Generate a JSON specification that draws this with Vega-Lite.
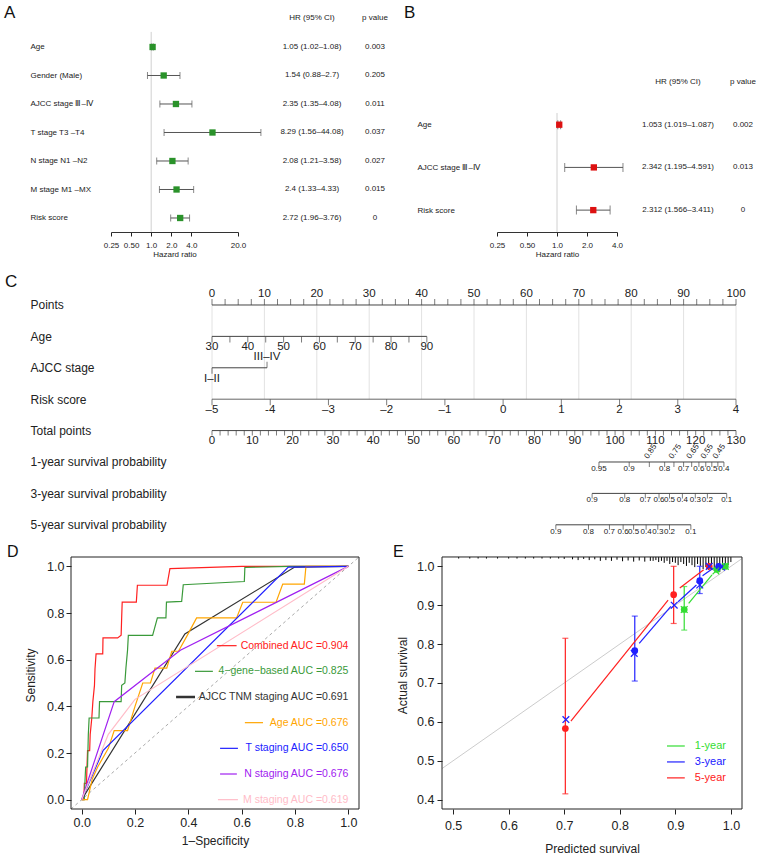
{
"$schema":"https://vega.github.io/schema/vega-lite/v6.json",
"padding":0,
"spacing":0,
"resolve":{"scale":{"color":"independent"}},
"config":{
 "view":{"stroke":null},
 "font":"Liberation Sans",
 "title":{"fontWeight":"normal","font":"Liberation Sans","fontSize":17,"anchor":"start","frame":"group","offset":0,"baseline":"alphabetic","color":"#111"},
 "axis":{"grid":false,"labelColor":"#222","titleColor":"#222","titleFontWeight":"normal","domainColor":"#222","tickColor":"#222","labelFont":"Liberation Sans","titleFont":"Liberation Sans"}
},
"datasets":{
 "forestA":[
  {"i":0,"hrtxt":"HR (95% CI)","ptxt":"p value"},
  {"i":1,"name":"Age","hr":1.05,"lo":1.02,"hi":1.08,"hrtxt":"1.05 (1.02–1.08)","ptxt":"0.003"},
  {"i":2,"name":"Gender (Male)","hr":1.54,"lo":0.88,"hi":2.7,"hrtxt":"1.54 (0.88–2.7)","ptxt":"0.205"},
  {"i":3,"name":"AJCC stage Ⅲ–Ⅳ","hr":2.35,"lo":1.35,"hi":4.08,"hrtxt":"2.35 (1.35–4.08)","ptxt":"0.011"},
  {"i":4,"name":"T stage T3 –T4","hr":8.29,"lo":1.56,"hi":44.08,"hrtxt":"8.29 (1.56–44.08)","ptxt":"0.037"},
  {"i":5,"name":"N stage N1 –N2","hr":2.08,"lo":1.21,"hi":3.58,"hrtxt":"2.08 (1.21–3.58)","ptxt":"0.027"},
  {"i":6,"name":"M stage M1 –MX","hr":2.4,"lo":1.33,"hi":4.33,"hrtxt":"2.4 (1.33–4.33)","ptxt":"0.015"},
  {"i":7,"name":"Risk score","hr":2.72,"lo":1.96,"hi":3.76,"hrtxt":"2.72 (1.96–3.76)","ptxt":"0"}
 ],
 "forestB":[
  {"i":0,"hrtxt":"HR (95% CI)","ptxt":"p value"},
  {"i":1,"name":"Age","hr":1.053,"lo":1.019,"hi":1.087,"hrtxt":"1.053 (1.019–1.087)","ptxt":"0.002"},
  {"i":2,"name":"AJCC stage Ⅲ–Ⅳ","hr":2.342,"lo":1.195,"hi":4.591,"hrtxt":"2.342 (1.195–4.591)","ptxt":"0.013"},
  {"i":3,"name":"Risk score","hr":2.312,"lo":1.566,"hi":3.411,"hrtxt":"2.312 (1.566–3.411)","ptxt":"0"}
 ],
 "nomoPts":[
  {"r":0,"v":0,"t":"u","lab":"0","lp":"a"},{"r":0,"v":2.5,"t":"u"},{"r":0,"v":5,"t":"u"},{"r":0,"v":7.5,"t":"u"},
  {"r":0,"v":10,"t":"u","lab":"10","lp":"a"},{"r":0,"v":12.5,"t":"u"},{"r":0,"v":15,"t":"u"},{"r":0,"v":17.5,"t":"u"},
  {"r":0,"v":20,"t":"u","lab":"20","lp":"a"},{"r":0,"v":22.5,"t":"u"},{"r":0,"v":25,"t":"u"},{"r":0,"v":27.5,"t":"u"},
  {"r":0,"v":30,"t":"u","lab":"30","lp":"a"},{"r":0,"v":32.5,"t":"u"},{"r":0,"v":35,"t":"u"},{"r":0,"v":37.5,"t":"u"},
  {"r":0,"v":40,"t":"u","lab":"40","lp":"a"},{"r":0,"v":42.5,"t":"u"},{"r":0,"v":45,"t":"u"},{"r":0,"v":47.5,"t":"u"},
  {"r":0,"v":50,"t":"u","lab":"50","lp":"a"},{"r":0,"v":52.5,"t":"u"},{"r":0,"v":55,"t":"u"},{"r":0,"v":57.5,"t":"u"},
  {"r":0,"v":60,"t":"u","lab":"60","lp":"a"},{"r":0,"v":62.5,"t":"u"},{"r":0,"v":65,"t":"u"},{"r":0,"v":67.5,"t":"u"},
  {"r":0,"v":70,"t":"u","lab":"70","lp":"a"},{"r":0,"v":72.5,"t":"u"},{"r":0,"v":75,"t":"u"},{"r":0,"v":77.5,"t":"u"},
  {"r":0,"v":80,"t":"u","lab":"80","lp":"a"},{"r":0,"v":82.5,"t":"u"},{"r":0,"v":85,"t":"u"},{"r":0,"v":87.5,"t":"u"},
  {"r":0,"v":90,"t":"u","lab":"90","lp":"a"},{"r":0,"v":92.5,"t":"u"},{"r":0,"v":95,"t":"u"},{"r":0,"v":97.5,"t":"u"},
  {"r":0,"v":100,"t":"u","lab":"100","lp":"a"},
  {"r":2,"v":0,"t":"d","lab":"I–II","lp":"b"},{"r":2,"v":10.5,"t":"u","lab":"III–IV","lp":"a"}
 ],
 "nomoAge":[
  {"r":1,"v":30,"t":"d","lab":"30","lp":"b"},{"r":1,"v":35,"t":"d"},{"r":1,"v":40,"t":"d","lab":"40","lp":"b"},{"r":1,"v":45,"t":"d"},
  {"r":1,"v":50,"t":"d","lab":"50","lp":"b"},{"r":1,"v":55,"t":"d"},{"r":1,"v":60,"t":"d","lab":"60","lp":"b"},{"r":1,"v":65,"t":"d"},
  {"r":1,"v":70,"t":"d","lab":"70","lp":"b"},{"r":1,"v":75,"t":"d"},{"r":1,"v":80,"t":"d","lab":"80","lp":"b"},{"r":1,"v":85,"t":"d"},
  {"r":1,"v":90,"t":"d","lab":"90","lp":"b"}
 ],
 "nomoRisk":[
  {"r":3,"v":-5,"t":"d","lab":"–5","lp":"b"},{"r":3,"v":-4,"t":"d","lab":"-4","lp":"b"},{"r":3,"v":-3,"t":"d","lab":"–3","lp":"b"},
  {"r":3,"v":-2,"t":"d","lab":"–2","lp":"b"},{"r":3,"v":-1,"t":"d","lab":"–1","lp":"b"},{"r":3,"v":0,"t":"d","lab":"0","lp":"b"},
  {"r":3,"v":1,"t":"d","lab":"1","lp":"b"},{"r":3,"v":2,"t":"d","lab":"2","lp":"b"},{"r":3,"v":3,"t":"d","lab":"3","lp":"b"},
  {"r":3,"v":4,"t":"d","lab":"4","lp":"b"}
 ],
 "nomoTP":[
  {"r":4,"v":0,"t":"d","lab":"0","lp":"b"},{"r":4,"v":2,"t":"d"},{"r":4,"v":4,"t":"d"},{"r":4,"v":6,"t":"d"},{"r":4,"v":8,"t":"d"},
  {"r":4,"v":10,"t":"d","lab":"10","lp":"b"},{"r":4,"v":12,"t":"d"},{"r":4,"v":14,"t":"d"},{"r":4,"v":16,"t":"d"},{"r":4,"v":18,"t":"d"},
  {"r":4,"v":20,"t":"d","lab":"20","lp":"b"},{"r":4,"v":22,"t":"d"},{"r":4,"v":24,"t":"d"},{"r":4,"v":26,"t":"d"},{"r":4,"v":28,"t":"d"},
  {"r":4,"v":30,"t":"d","lab":"30","lp":"b"},{"r":4,"v":32,"t":"d"},{"r":4,"v":34,"t":"d"},{"r":4,"v":36,"t":"d"},{"r":4,"v":38,"t":"d"},
  {"r":4,"v":40,"t":"d","lab":"40","lp":"b"},{"r":4,"v":42,"t":"d"},{"r":4,"v":44,"t":"d"},{"r":4,"v":46,"t":"d"},{"r":4,"v":48,"t":"d"},
  {"r":4,"v":50,"t":"d","lab":"50","lp":"b"},{"r":4,"v":52,"t":"d"},{"r":4,"v":54,"t":"d"},{"r":4,"v":56,"t":"d"},{"r":4,"v":58,"t":"d"},
  {"r":4,"v":60,"t":"d","lab":"60","lp":"b"},{"r":4,"v":62,"t":"d"},{"r":4,"v":64,"t":"d"},{"r":4,"v":66,"t":"d"},{"r":4,"v":68,"t":"d"},
  {"r":4,"v":70,"t":"d","lab":"70","lp":"b"},{"r":4,"v":72,"t":"d"},{"r":4,"v":74,"t":"d"},{"r":4,"v":76,"t":"d"},{"r":4,"v":78,"t":"d"},
  {"r":4,"v":80,"t":"d","lab":"80","lp":"b"},{"r":4,"v":82,"t":"d"},{"r":4,"v":84,"t":"d"},{"r":4,"v":86,"t":"d"},{"r":4,"v":88,"t":"d"},
  {"r":4,"v":90,"t":"d","lab":"90","lp":"b"},{"r":4,"v":92,"t":"d"},{"r":4,"v":94,"t":"d"},{"r":4,"v":96,"t":"d"},{"r":4,"v":98,"t":"d"},
  {"r":4,"v":100,"t":"d","lab":"100","lp":"b"},{"r":4,"v":102,"t":"d"},{"r":4,"v":104,"t":"d"},{"r":4,"v":106,"t":"d"},{"r":4,"v":108,"t":"d"},
  {"r":4,"v":110,"t":"d","lab":"110","lp":"b"},{"r":4,"v":112,"t":"d"},{"r":4,"v":114,"t":"d"},{"r":4,"v":116,"t":"d"},{"r":4,"v":118,"t":"d"},
  {"r":4,"v":120,"t":"d","lab":"120","lp":"b"},{"r":4,"v":122,"t":"d"},{"r":4,"v":124,"t":"d"},{"r":4,"v":126,"t":"d"},{"r":4,"v":128,"t":"d"},
  {"r":4,"v":130,"t":"d","lab":"130","lp":"b"},
  {"r":5,"v":96.0,"t":"d","lab":"0.95","lp":"b"},{"r":5,"v":103.5,"t":"d","lab":"0.9","lp":"b"},{"r":5,"v":108.5,"t":"d","lab":"0.85","lp":"rot"},
  {"r":5,"v":112.3,"t":"d","lab":"0.8","lp":"b"},{"r":5,"v":114.6,"t":"d","lab":"0.75","lp":"rot"},{"r":5,"v":117.0,"t":"d","lab":"0.7","lp":"b"},
  {"r":5,"v":119.0,"t":"d","lab":"0.65","lp":"rot"},{"r":5,"v":120.8,"t":"d","lab":"0.6","lp":"b"},{"r":5,"v":122.5,"t":"d","lab":"0.55","lp":"rot"},
  {"r":5,"v":124.0,"t":"d","lab":"0.5","lp":"b"},{"r":5,"v":125.5,"t":"d","lab":"0.45","lp":"rot"},{"r":5,"v":127.0,"t":"d","lab":"0.4","lp":"b"},
  {"r":6,"v":94.3,"t":"d","lab":"0.9","lp":"b"},{"r":6,"v":102.4,"t":"d","lab":"0.8","lp":"b"},{"r":6,"v":107.5,"t":"d","lab":"0.7","lp":"b"},
  {"r":6,"v":110.9,"t":"d","lab":"0.6","lp":"b"},{"r":6,"v":113.5,"t":"d","lab":"0.5","lp":"b"},{"r":6,"v":116.7,"t":"d","lab":"0.4","lp":"b"},
  {"r":6,"v":119.9,"t":"d","lab":"0.3","lp":"b"},{"r":6,"v":122.9,"t":"d","lab":"0.2","lp":"b"},{"r":6,"v":127.7,"t":"d","lab":"0.1","lp":"b"},
  {"r":7,"v":85.3,"t":"d","lab":"0.9","lp":"b"},{"r":7,"v":93.4,"t":"d","lab":"0.8","lp":"b"},{"r":7,"v":98.6,"t":"d","lab":"0.7","lp":"b"},
  {"r":7,"v":102.0,"t":"d","lab":"0.6","lp":"b"},{"r":7,"v":104.6,"t":"d","lab":"0.5","lp":"b"},{"r":7,"v":107.7,"t":"d","lab":"0.4","lp":"b"},
  {"r":7,"v":110.6,"t":"d","lab":"0.3","lp":"b"},{"r":7,"v":113.5,"t":"d","lab":"0.2","lp":"b"},{"r":7,"v":118.8,"t":"d","lab":"0.1","lp":"b"}
 ],
 "roc":[
  {"s":"Combined","k":0,"px":0,"py":0},{"s":"Combined","k":1,"px":0.008,"py":0},{"s":"Combined","k":2,"px":0.01,"py":0.07},{"s":"Combined","k":3,"px":0.018,"py":0.07},
  {"s":"Combined","k":4,"px":0.02,"py":0.14},{"s":"Combined","k":5,"px":0.022,"py":0.21},{"s":"Combined","k":6,"px":0.03,"py":0.21},{"s":"Combined","k":7,"px":0.032,"py":0.28},
  {"s":"Combined","k":8,"px":0.038,"py":0.35},{"s":"Combined","k":9,"px":0.042,"py":0.42},{"s":"Combined","k":10,"px":0.048,"py":0.49},{"s":"Combined","k":11,"px":0.05,"py":0.56},
  {"s":"Combined","k":12,"px":0.054,"py":0.625},{"s":"Combined","k":13,"px":0.079,"py":0.625},{"s":"Combined","k":14,"px":0.08,"py":0.693},{"s":"Combined","k":15,"px":0.135,"py":0.693},
  {"s":"Combined","k":16,"px":0.148,"py":0.705},{"s":"Combined","k":17,"px":0.15,"py":0.78},{"s":"Combined","k":18,"px":0.152,"py":0.847},{"s":"Combined","k":19,"px":0.205,"py":0.847},
  {"s":"Combined","k":20,"px":0.209,"py":0.919},{"s":"Combined","k":21,"px":0.32,"py":0.919},{"s":"Combined","k":22,"px":0.331,"py":0.99},{"s":"Combined","k":23,"px":0.6,"py":1.0},
  {"s":"Combined","k":24,"px":1,"py":1},
  {"s":"4-gene","k":0,"px":0,"py":0},{"s":"4-gene","k":1,"px":0.01,"py":0},{"s":"4-gene","k":2,"px":0.012,"py":0.07},{"s":"4-gene","k":3,"px":0.015,"py":0.14},
  {"s":"4-gene","k":4,"px":0.022,"py":0.14},{"s":"4-gene","k":5,"px":0.025,"py":0.28},{"s":"4-gene","k":6,"px":0.028,"py":0.35},{"s":"4-gene","k":7,"px":0.065,"py":0.35},
  {"s":"4-gene","k":8,"px":0.067,"py":0.42},{"s":"4-gene","k":9,"px":0.148,"py":0.42},{"s":"4-gene","k":10,"px":0.15,"py":0.49},{"s":"4-gene","k":11,"px":0.162,"py":0.5},
  {"s":"4-gene","k":12,"px":0.166,"py":0.564},{"s":"4-gene","k":13,"px":0.172,"py":0.64},{"s":"4-gene","k":14,"px":0.175,"py":0.704},{"s":"4-gene","k":15,"px":0.266,"py":0.704},
  {"s":"4-gene","k":16,"px":0.284,"py":0.779},{"s":"4-gene","k":17,"px":0.316,"py":0.779},{"s":"4-gene","k":18,"px":0.318,"py":0.847},{"s":"4-gene","k":19,"px":0.375,"py":0.85},
  {"s":"4-gene","k":20,"px":0.381,"py":0.921},{"s":"4-gene","k":21,"px":0.61,"py":0.935},{"s":"4-gene","k":22,"px":0.612,"py":0.995},{"s":"4-gene","k":23,"px":0.78,"py":1.0},
  {"s":"4-gene","k":24,"px":1,"py":1},
  {"s":"AJCC","k":0,"px":0,"py":0},{"s":"AJCC","k":1,"px":0.387,"py":0.71},{"s":"AJCC","k":2,"px":0.7975,"py":0.996},{"s":"AJCC","k":3,"px":1,"py":1},
  {"s":"Age","k":0,"px":0,"py":0},{"s":"Age","k":1,"px":0.022,"py":0},{"s":"Age","k":2,"px":0.04,"py":0.09},{"s":"Age","k":3,"px":0.06,"py":0.14},
  {"s":"Age","k":4,"px":0.1,"py":0.22},{"s":"Age","k":5,"px":0.122,"py":0.296},{"s":"Age","k":6,"px":0.172,"py":0.296},{"s":"Age","k":7,"px":0.2,"py":0.4},
  {"s":"Age","k":8,"px":0.229,"py":0.5},{"s":"Age","k":9,"px":0.258,"py":0.5},{"s":"Age","k":10,"px":0.275,"py":0.564},{"s":"Age","k":11,"px":0.319,"py":0.564},
  {"s":"Age","k":12,"px":0.338,"py":0.636},{"s":"Age","k":13,"px":0.363,"py":0.636},{"s":"Age","k":14,"px":0.394,"py":0.7},{"s":"Age","k":15,"px":0.431,"py":0.779},
  {"s":"Age","k":16,"px":0.581,"py":0.779},{"s":"Age","k":17,"px":0.604,"py":0.846},{"s":"Age","k":18,"px":0.729,"py":0.846},{"s":"Age","k":19,"px":0.754,"py":0.924},
  {"s":"Age","k":20,"px":0.835,"py":0.924},{"s":"Age","k":21,"px":0.841,"py":1.0},{"s":"Age","k":22,"px":1,"py":1},
  {"s":"T","k":0,"px":0,"py":0},{"s":"T","k":1,"px":0.08,"py":0.21},{"s":"T","k":2,"px":0.775,"py":0.997},{"s":"T","k":3,"px":1,"py":1},
  {"s":"N","k":0,"px":0,"py":0},{"s":"N","k":1,"px":0.122,"py":0.42},{"s":"N","k":2,"px":0.37,"py":0.64},{"s":"N","k":3,"px":1,"py":1},
  {"s":"M","k":0,"px":0,"py":0},{"s":"M","k":1,"px":0.1,"py":0.28},{"s":"M","k":2,"px":0.2,"py":0.43},{"s":"M","k":3,"px":1,"py":1}
 ],
 "rocLeg":[
  {"s":"Combined","lab":"Combined AUC =0.904","tx":1.0,"py":0.66,"px":0.507,"px2":0.581},
  {"s":"4-gene","lab":"4−gene−based AUC =0.825","tx":1.0,"py":0.55,"px":0.425,"px2":0.492},
  {"s":"AJCC","lab":"AJCC TNM staging AUC =0.691","tx":1.0,"py":0.44,"px":0.354,"px2":0.425},
  {"s":"Age","lab":"Age AUC =0.676","tx":1.0,"py":0.33,"px":0.612,"px2":0.68},
  {"s":"T","lab":"T staging AUC =0.650","tx":1.0,"py":0.22,"px":0.519,"px2":0.586},
  {"s":"N","lab":"N staging AUC =0.676","tx":1.0,"py":0.11,"px":0.519,"px2":0.582},
  {"s":"M","lab":"M staging AUC =0.619","tx":1.0,"py":0.0,"px":0.511,"px2":0.586}
 ],
 "rug":[
  {"px":0.51,"py":1.02},{"px":0.53,"py":1.02},{"px":0.545,"py":1.02},{"px":0.56,"py":1.02},{"px":0.58,"py":1.02},{"px":0.6,"py":1.02},
  {"px":0.615,"py":1.02},{"px":0.63,"py":1.02},{"px":0.645,"py":1.02},{"px":0.66,"py":1.02},{"px":0.675,"py":1.02},{"px":0.69,"py":1.02},{"px":0.7,"py":1.019},
  {"px":0.715,"py":1.018},{"px":0.725,"py":1.016},{"px":0.735,"py":1.019},{"px":0.745,"py":1.016},{"px":0.755,"py":1.018},{"px":0.765,"py":1.014},
  {"px":0.775,"py":1.016},{"px":0.785,"py":1.014},{"px":0.795,"py":1.017},{"px":0.805,"py":1.013},{"px":0.815,"py":1.015},{"px":0.825,"py":1.012},
  {"px":0.835,"py":1.015},{"px":0.845,"py":1.012},{"px":0.855,"py":1.014},
  {"px":0.86,"py":1.014},{"px":0.865,"py":1.016},{"px":0.87,"py":1.011},{"px":0.875,"py":1.014},{"px":0.88,"py":1.009},{"px":0.885,"py":1.014},
  {"px":0.89,"py":1.006},{"px":0.895,"py":1.011},{"px":0.9,"py":1.009},{"px":0.905,"py":1.003},{"px":0.91,"py":1.011},{"px":0.915,"py":1.006},
  {"px":0.92,"py":1.001},{"px":0.925,"py":1.009},{"px":0.93,"py":1.003},{"px":0.935,"py":0.998},{"px":0.94,"py":1.006},{"px":0.945,"py":1.001},
  {"px":0.95,"py":0.993},{"px":0.955,"py":0.998},{"px":0.96,"py":0.991},{"px":0.965,"py":0.996},{"px":0.97,"py":0.988},{"px":0.975,"py":0.993},
  {"px":0.98,"py":0.985},{"px":0.985,"py":0.991},{"px":0.99,"py":0.996},{"px":0.995,"py":1.003},{"px":1.0,"py":1.011}
 ],
 "ebar":[
  {"g":"5-year","px":0.702,"py":0.415,"py2":0.815},{"g":"5-year","px":0.897,"py":0.853,"py2":1.0},
  {"g":"3-year","px":0.827,"py":0.705,"py2":0.872},{"g":"3-year","px":0.944,"py":0.93,"py2":1.0},
  {"g":"1-year","px":0.916,"py":0.836,"py2":0.948}
 ],
 "dots":[
  {"g":"1-year","px":0.916,"py":0.889},{"g":"1-year","px":0.975,"py":0.992},{"g":"1-year","px":0.99,"py":1.0},
  {"g":"5-year","px":0.702,"py":0.583},{"g":"5-year","px":0.897,"py":0.927},{"g":"5-year","px":0.961,"py":1.0},
  {"g":"3-year","px":0.827,"py":0.783},{"g":"3-year","px":0.944,"py":0.963},{"g":"3-year","px":0.978,"py":1.0}
 ],
 "crosses":[
  {"g":"3-year","px":0.703,"py":0.606},{"g":"3-year","px":0.826,"py":0.776},{"g":"3-year","px":0.898,"py":0.9},{"g":"3-year","px":0.944,"py":0.952},
  {"g":"1-year","px":0.916,"py":0.889},{"g":"1-year","px":0.973,"py":0.988},{"g":"3-year","px":0.961,"py":1.0},{"g":"3-year","px":0.983,"py":0.998},{"g":"1-year","px":0.99,"py":1.0}
 ],
 "segs":[
  {"g":"5-year","px":0.712,"py":0.602,"px2":0.887,"py2":0.913},{"g":"5-year","px":0.908,"py":0.944,"px2":0.951,"py2":0.991},
  {"g":"3-year","px":0.835,"py":0.802,"px2":0.892,"py2":0.897},{"g":"3-year","px":0.905,"py":0.909,"px2":0.938,"py2":0.952},
  {"g":"3-year","px":0.949,"py":0.976,"px2":0.968,"py2":0.995},{"g":"1-year","px":0.924,"py":0.905,"px2":0.966,"py2":0.978}
 ],
 "eleg":[
  {"g":"1-year","lab":"1-year","tx":0.935,"py":0.538,"px":0.885,"px2":0.917},
  {"g":"3-year","lab":"3-year","tx":0.935,"py":0.497,"px":0.885,"px2":0.917},
  {"g":"5-year","lab":"5-year","tx":0.935,"py":0.456,"px":0.885,"px2":0.917}
 ]
},
"vconcat":[
 {"spacing":0,"bounds":"flush","hconcat":[
  {"width":111,"height":262,"data":{"values":[{}]},"mark":{"type":"point","opacity":0}},
  {"width":127,"height":262,
   "title":{"text":"A","dx":-107,"dy":26},
   "data":{"name":"forestA"},
   "encoding":{
    "x":{"field":"hr","type":"quantitative","scale":{"type":"log","domain":[0.25,20],"nice":false},
      "axis":{"values":[0.25,0.5,1,2,4,20],"labelExpr":"datum.value == 0.25 ? '0.25' : datum.value == 0.5 ? '0.50' : format(datum.value, '.1f')","title":"Hazard ratio","offset":-30,"labelFontSize":8,"titleFontSize":8,"tickSize":4,"labelPadding":5,"titlePadding":1,"labelFlush":false,"labelOverlap":false,"domainColor":"#333"}},
    "y":{"field":"i","type":"quantitative","scale":{"domain":[-0.649,8.544],"reverse":true,"nice":false,"zero":false},
     "axis":{"values":[1,2,3,4,5,6,7],"labelExpr":"['', 'Age', 'Gender (Male)', 'AJCC stage Ⅲ–Ⅳ', 'T stage T3 –T4', 'N stage N1 –N2', 'M stage M1 –MX', 'Risk score'][datum.value]","labelAlign":"left","labelBaseline":"middle","labelPadding":81,"ticks":false,"tickSize":0,"domain":false,"title":null,"labelFontSize":8,"labelOverlap":false,"labelFlush":false}}},
   "layer":[
    {"data":{"values":[{"hr":1,"i":0.47,"i2":7.49}]},"mark":{"type":"rule","color":"#d0d0d0"},"encoding":{"y2":{"field":"i2"}}},
    {"mark":{"type":"rule","color":"#555"},"encoding":{"x":{"field":"lo","type":"quantitative"},"x2":{"field":"hi"}}},
    {"mark":{"type":"tick","orient":"vertical","size":7,"thickness":1,"color":"#555"},"encoding":{"x":{"field":"lo","type":"quantitative"}}},
    {"mark":{"type":"tick","orient":"vertical","size":7,"thickness":1,"color":"#555"},"encoding":{"x":{"field":"hi","type":"quantitative"}}},
    {"mark":{"type":"square","size":40,"color":"#2a922a","opacity":1,"filled":true}}
   ]},
  {"width":74,"height":262,"data":{"values":[{}]},"mark":{"type":"point","opacity":0}},
  {"width":63,"height":262,
   "data":{"name":"forestA"},
   "encoding":{"y":{"field":"i","type":"quantitative","scale":{"domain":[-0.649,8.544],"reverse":true,"nice":false,"zero":false},"axis":null}},
   "layer":[
    {"mark":{"type":"text","fontSize":8,"color":"#222"},"encoding":{"x":{"datum":"hr","type":"nominal","scale":{"type":"point","domain":["hr","p"],"padding":0},"axis":null},"text":{"field":"hrtxt"}}},
    {"mark":{"type":"text","fontSize":8,"color":"#222"},"encoding":{"x":{"datum":"p","type":"nominal","scale":{"type":"point","domain":["hr","p"],"padding":0},"axis":null},"text":{"field":"ptxt"}}}
   ]},
  {"width":122,"height":262,"data":{"values":[{}]},"mark":{"type":"point","opacity":0}},
  {"width":120,"height":262,
   "title":{"text":"B","dx":-93,"dy":26},
   "data":{"name":"forestB"},
   "encoding":{
    "x":{"field":"hr","type":"quantitative","scale":{"type":"log","domain":[0.25,4],"nice":false},
      "axis":{"values":[0.25,0.5,1,2,4],"labelExpr":"datum.value == 0.25 ? '0.25' : datum.value == 0.5 ? '0.50' : format(datum.value, '.1f')","title":"Hazard ratio","offset":-30,"labelFontSize":8,"titleFontSize":8,"tickSize":4,"labelPadding":5,"titlePadding":1,"labelFlush":false,"labelOverlap":false,"domainColor":"#333"}},
    "y":{"field":"i","type":"quantitative","scale":{"domain":[-1.92,4.215],"reverse":true,"nice":false,"zero":false},
     "axis":{"values":[1,2,3],"labelExpr":"['', 'Age', 'AJCC stage Ⅲ–Ⅳ', 'Risk score'][datum.value]","labelAlign":"left","labelBaseline":"middle","labelPadding":80,"ticks":false,"tickSize":0,"domain":false,"title":null,"labelFontSize":8,"labelOverlap":false,"labelFlush":false}}},
   "layer":[
    {"data":{"values":[{"hr":1,"i":0.726,"i2":3.51}]},"mark":{"type":"rule","color":"#d0d0d0"},"encoding":{"y2":{"field":"i2"}}},
    {"mark":{"type":"rule","color":"#555"},"encoding":{"x":{"field":"lo","type":"quantitative"},"x2":{"field":"hi"}}},
    {"mark":{"type":"tick","orient":"vertical","size":9,"thickness":1,"color":"#555"},"encoding":{"x":{"field":"lo","type":"quantitative"}}},
    {"mark":{"type":"tick","orient":"vertical","size":9,"thickness":1,"color":"#555"},"encoding":{"x":{"field":"hi","type":"quantitative"}}},
    {"mark":{"type":"square","size":40,"color":"#dd1111","opacity":1,"filled":true}}
   ]},
  {"width":61,"height":262,"data":{"values":[{}]},"mark":{"type":"point","opacity":0}},
  {"width":65,"height":262,
   "data":{"name":"forestB"},
   "encoding":{"y":{"field":"i","type":"quantitative","scale":{"domain":[-1.92,4.215],"reverse":true,"nice":false,"zero":false},"axis":null}},
   "layer":[
    {"mark":{"type":"text","fontSize":8,"color":"#222"},"encoding":{"x":{"datum":"hr","type":"nominal","scale":{"type":"point","domain":["hr","p"],"padding":0},"axis":null},"text":{"field":"hrtxt"}}},
    {"mark":{"type":"text","fontSize":8,"color":"#222"},"encoding":{"x":{"datum":"p","type":"nominal","scale":{"type":"point","domain":["hr","p"],"padding":0},"axis":null},"text":{"field":"ptxt"}}}
   ]}
 ]},
 {"spacing":0,"bounds":"flush","hconcat":[
  {"width":212,"height":279,"data":{"values":[{}]},"mark":{"type":"point","opacity":0}},
  {"width":524,"height":279,
   "title":{"text":"C","dx":-207,"dy":33},
   "encoding":{"y":{"field":"r","type":"quantitative","scale":{"domain":[-1.369,7.516],"reverse":true,"nice":false,"zero":false},
     "axis":{"values":[0,1,2,3,4,5,6,7],"labelExpr":"['Points','Age','AJCC stage','Risk score','Total points','1-year survival probability','3-year survival probability','5-year survival probability'][datum.value]","labelAlign":"left","labelBaseline":"middle","labelPadding":182,"ticks":false,"tickSize":0,"domain":false,"title":null,"labelFontSize":12,"labelOverlap":false,"labelFlush":false}}},
   "resolve":{"scale":{"x":"independent"}},
   "layer":[
    {"data":{"name":"nomoPts"},"layer":[
     {"transform":[{"filter":"datum.r == 0 && datum.lab != null"}],"mark":{"type":"rule","color":"#e2e2e2"},"encoding":{"x":{"field":"v","type":"quantitative","scale":{"domain":[0,100],"nice":false,"zero":false},"axis":null},"y2":{"datum":3}}},
     {"mark":{"type":"rule","color":"#444"},"encoding":{"x":{"aggregate":"min","field":"v","type":"quantitative","scale":{"domain":[0,100],"nice":false,"zero":false},"axis":null},"x2":{"aggregate":"max","field":"v"}}},
     {"transform":[{"filter":"datum.t == 'u'"}],"mark":{"type":"tick","orient":"vertical","size":6,"thickness":1,"yOffset":-3,"color":"#444"},"encoding":{"x":{"field":"v","type":"quantitative","scale":{"domain":[0,100],"nice":false,"zero":false},"axis":null}}},
     {"transform":[{"filter":"datum.t == 'd'"}],"mark":{"type":"tick","orient":"vertical","size":6,"thickness":1,"yOffset":3,"color":"#444"},"encoding":{"x":{"field":"v","type":"quantitative","scale":{"domain":[0,100],"nice":false,"zero":false},"axis":null}}},
     {"transform":[{"filter":"datum.lp == 'a'"}],"mark":{"type":"text","baseline":"bottom","dy":-6,"fontSize":11.5,"color":"#222"},"encoding":{"x":{"field":"v","type":"quantitative","scale":{"domain":[0,100],"nice":false,"zero":false},"axis":null},"text":{"field":"lab"}}},
     {"transform":[{"filter":"datum.lp == 'b'"}],"mark":{"type":"text","baseline":"top","dy":5,"fontSize":11.5,"color":"#222"},"encoding":{"x":{"field":"v","type":"quantitative","scale":{"domain":[0,100],"nice":false,"zero":false},"axis":null},"text":{"field":"lab"}}}
    ]},
    {"data":{"name":"nomoAge"},"layer":[
     {"mark":{"type":"rule","color":"#444"},"encoding":{"x":{"aggregate":"min","field":"v","type":"quantitative","scale":{"domain":[30,176.34],"nice":false,"zero":false},"axis":null},"x2":{"aggregate":"max","field":"v"}}},
     {"mark":{"type":"tick","orient":"vertical","size":6,"thickness":1,"yOffset":3,"color":"#444"},"encoding":{"x":{"field":"v","type":"quantitative","scale":{"domain":[30,176.34],"nice":false,"zero":false},"axis":null}}},
     {"transform":[{"filter":"datum.lp == 'b'"}],"mark":{"type":"text","baseline":"top","dy":5,"fontSize":11.5,"color":"#222"},"encoding":{"x":{"field":"v","type":"quantitative","scale":{"domain":[30,176.34],"nice":false,"zero":false},"axis":null},"text":{"field":"lab"}}}
    ]},
    {"data":{"name":"nomoRisk"},"layer":[
     {"mark":{"type":"rule","color":"#666"},"encoding":{"x":{"aggregate":"min","field":"v","type":"quantitative","scale":{"domain":[-5,4],"nice":false,"zero":false},"axis":null},"x2":{"aggregate":"max","field":"v"}}},
     {"mark":{"type":"tick","orient":"vertical","size":6,"thickness":1,"yOffset":3,"color":"#444"},"encoding":{"x":{"field":"v","type":"quantitative","scale":{"domain":[-5,4],"nice":false,"zero":false},"axis":null}}},
     {"mark":{"type":"text","baseline":"top","dy":5,"fontSize":11.5,"color":"#222"},"encoding":{"x":{"field":"v","type":"quantitative","scale":{"domain":[-5,4],"nice":false,"zero":false},"axis":null},"text":{"field":"lab"}}}
    ]},
    {"data":{"name":"nomoTP"},"layer":[
     {"mark":{"type":"rule","color":"#444"},"encoding":{"x":{"aggregate":"min","field":"v","type":"quantitative","scale":{"domain":[0,130],"nice":false,"zero":false},"axis":null},"x2":{"aggregate":"max","field":"v"}}},
     {"mark":{"type":"tick","orient":"vertical","size":5,"thickness":1,"yOffset":2.5,"color":"#444"},"encoding":{"x":{"field":"v","type":"quantitative","scale":{"domain":[0,130],"nice":false,"zero":false},"axis":null}}},
     {"transform":[{"filter":"datum.r == 4 && datum.lp == 'b'"}],"mark":{"type":"text","baseline":"top","dy":4,"fontSize":11.5,"color":"#222"},"encoding":{"x":{"field":"v","type":"quantitative","scale":{"domain":[0,130],"nice":false,"zero":false},"axis":null},"text":{"field":"lab"}}},
     {"transform":[{"filter":"datum.r >= 5 && datum.lp == 'b'"}],"mark":{"type":"text","baseline":"top","dy":3,"fontSize":8,"color":"#222"},"encoding":{"x":{"field":"v","type":"quantitative","scale":{"domain":[0,130],"nice":false,"zero":false},"axis":null},"text":{"field":"lab"}}},
     {"transform":[{"filter":"datum.lp == 'rot'"}],"mark":{"type":"text","angle":305,"align":"left","baseline":"middle","yOffset":-4,"xOffset":-3,"fontSize":8,"color":"#222"},"encoding":{"x":{"field":"v","type":"quantitative","scale":{"domain":[0,130],"nice":false,"zero":false},"axis":null},"text":{"field":"lab"}}}
    ]}
   ]}
 ]},
 {"spacing":0,"bounds":"flush","resolve":{"scale":{"color":"independent"}},"hconcat":[
  {"width":71,"height":268,"data":{"values":[{}]},"mark":{"type":"point","opacity":0}},
  {"width":288,"height":268,
   "title":{"text":"D","dx":-64,"dy":23,"fontSize":16},
   "encoding":{
    "x":{"field":"px","type":"quantitative","scale":{"domain":[-0.04,1.04],"nice":false,"zero":false},"axis":{"values":[0,0.2,0.4,0.6,0.8,1],"format":".1f","domain":false,"tickSize":5,"labelFontSize":12.5,"labelPadding":2,"title":"1–Specificity","titleFontSize":12,"titlePadding":7,"labelFlush":false,"labelOverlap":false}},
    "y":{"field":"py","type":"quantitative","scale":{"domain":[-0.04,1.1086],"nice":false,"zero":false},"axis":{"values":[0,0.2,0.4,0.6,0.8,1],"format":".1f","domain":false,"tickSize":5,"labelFontSize":12.5,"labelPadding":2,"title":"Sensitivity","titleFontSize":12,"titlePadding":9,"labelFlush":false,"labelOverlap":false}}
   },
   "layer":[
    {"data":{"values":[{"px":-0.04,"py":-0.04},{"px":1.04,"py":1.04}]},"mark":{"type":"line","color":"#aaaaaa","strokeDash":[3,3],"strokeWidth":1}},
    {"data":{"name":"roc"},"mark":{"type":"line","strokeWidth":1.2},"encoding":{"color":{"field":"s","type":"nominal","scale":{"domain":["Combined","4-gene","AJCC","Age","T","N","M"],"range":["#ff2020","#3a9a3a","#333333","#ffa500","#2020ff","#a020f0","#ffbcc8"]},"legend":null},"order":{"field":"k","type":"quantitative"}}},
    {"data":{"name":"rocLeg"},"mark":{"type":"rule"},"encoding":{"x2":{"field":"px2"},"color":{"field":"s","type":"nominal","scale":{"domain":["Combined","4-gene","AJCC","Age","T","N","M"],"range":["#ff2020","#3a9a3a","#333333","#ffa500","#2020ff","#a020f0","#ffbcc8"]},"legend":null},"strokeWidth":{"condition":{"test":"datum.s == 'AJCC'","value":2.5},"value":1.2}}},
    {"data":{"name":"rocLeg"},"mark":{"type":"text","align":"right","baseline":"middle","fontSize":10.5},"encoding":{"x":{"field":"tx","type":"quantitative"},"text":{"field":"lab"},"color":{"field":"s","type":"nominal","scale":{"domain":["Combined","4-gene","AJCC","Age","T","N","M"],"range":["#ff2020","#3a9a3a","#333333","#ffa500","#2020ff","#a020f0","#ffbcc8"]},"legend":null}}},
    {"data":{"values":[{"px":-0.04,"py":-0.04,"px2":1.04,"py2":1.04}]},"mark":{"type":"rect","filled":false,"color":"#222","strokeWidth":1},"encoding":{"x2":{"field":"px2"},"y2":{"field":"py2"}}}
   ]},
  {"width":83,"height":268,"data":{"values":[{}]},"mark":{"type":"point","opacity":0}},
  {"width":300,"height":268,
   "title":{"text":"E","dx":-49,"dy":23,"fontSize":16},
   "encoding":{
    "x":{"field":"px","type":"quantitative","scale":{"domain":[0.48,1.02],"nice":false,"zero":false},"axis":{"values":[0.5,0.6,0.7,0.8,0.9,1.0],"format":".1f","domain":false,"tickSize":5,"labelFontSize":12.5,"labelPadding":5,"title":"Predicted survival","titleFontSize":12,"titlePadding":12,"labelFlush":false,"labelOverlap":false}},
    "y":{"field":"py","type":"quantitative","scale":{"domain":[0.376,1.0651],"nice":false,"zero":false},"axis":{"values":[0.4,0.5,0.6,0.7,0.8,0.9,1.0],"format":".1f","domain":false,"tickSize":5,"labelFontSize":12.5,"labelPadding":3,"title":"Actual survival","titleFontSize":12,"titlePadding":7,"labelFlush":false,"labelOverlap":false}}
   },
   "layer":[
    {"data":{"values":[{"px":0.48,"py":0.48},{"px":1.02,"py":1.02}]},"mark":{"type":"line","color":"#cccccc","strokeWidth":1}},
    {"data":{"name":"rug"},"mark":{"type":"rule","color":"#000","strokeWidth":1},"encoding":{"y2":{"datum":1.024}}},
    {"data":{"name":"ebar"},"mark":{"type":"rule","strokeWidth":1.2},"encoding":{"y2":{"field":"py2"},"color":{"field":"g","type":"nominal","scale":{"domain":["1-year","3-year","5-year"],"range":["#33dd33","#2020ff","#ff2020"]},"legend":null}}},
    {"data":{"name":"ebar"},"mark":{"type":"tick","orient":"horizontal","size":6,"thickness":1.2},"encoding":{"color":{"field":"g","type":"nominal","scale":{"domain":["1-year","3-year","5-year"],"range":["#33dd33","#2020ff","#ff2020"]},"legend":null}}},
    {"data":{"name":"ebar"},"mark":{"type":"tick","orient":"horizontal","size":6,"thickness":1.2},"encoding":{"y":{"field":"py2","type":"quantitative"},"color":{"field":"g","type":"nominal","scale":{"domain":["1-year","3-year","5-year"],"range":["#33dd33","#2020ff","#ff2020"]},"legend":null}}},
    {"data":{"name":"segs"},"mark":{"type":"rule","strokeWidth":1.2},"encoding":{"x2":{"field":"px2"},"y2":{"field":"py2"},"color":{"field":"g","type":"nominal","scale":{"domain":["1-year","3-year","5-year"],"range":["#33dd33","#2020ff","#ff2020"]},"legend":null}}},
    {"data":{"name":"dots"},"mark":{"type":"point","filled":true,"size":45,"opacity":1},"encoding":{"color":{"field":"g","type":"nominal","scale":{"domain":["1-year","3-year","5-year"],"range":["#33dd33","#2020ff","#ff2020"]},"legend":null}}},
    {"data":{"name":"crosses"},"mark":{"type":"point","shape":"M-1,-1L1,1M1,-1L-1,1","filled":false,"size":45,"strokeWidth":1.3,"opacity":1},"encoding":{"color":{"field":"g","type":"nominal","scale":{"domain":["1-year","3-year","5-year"],"range":["#33dd33","#2020ff","#ff2020"]},"legend":null}}},
    {"data":{"name":"eleg"},"mark":{"type":"rule","strokeWidth":1.2},"encoding":{"x2":{"field":"px2"},"color":{"field":"g","type":"nominal","scale":{"domain":["1-year","3-year","5-year"],"range":["#33dd33","#2020ff","#ff2020"]},"legend":null}}},
    {"data":{"name":"eleg"},"mark":{"type":"text","align":"left","baseline":"middle","fontSize":11},"encoding":{"x":{"field":"tx","type":"quantitative"},"text":{"field":"lab"},"color":{"field":"g","type":"nominal","scale":{"domain":["1-year","3-year","5-year"],"range":["#33dd33","#2020ff","#ff2020"]},"legend":null}}},
    {"data":{"values":[{"px":0.48,"py":0.376,"px2":1.02,"py2":1.024}]},"mark":{"type":"rect","filled":false,"color":"#222","strokeWidth":1},"encoding":{"x2":{"field":"px2"},"y2":{"field":"py2"}}}
   ]}
 ]}
]
}
